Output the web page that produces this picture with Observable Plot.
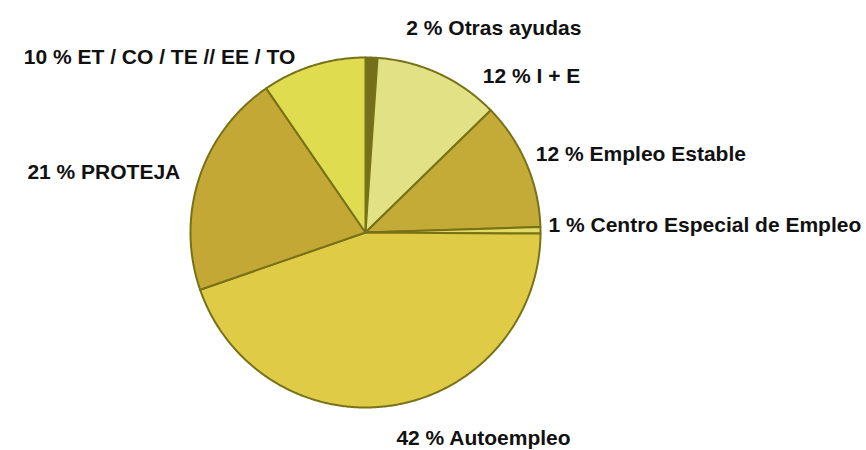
<!DOCTYPE html>
<html>
<head>
<meta charset="utf-8">
<script src="https://cdn.jsdelivr.net/npm/d3@7"></script>
<script src="https://cdn.jsdelivr.net/npm/@observablehq/plot@0.6"></script>
<style>
  html, body { margin: 0; padding: 0; background: #ffffff; }
  #chart svg { display: block; }
</style>
</head>
<body>
<div id="chart"></div>
<script>
// ---- Data ----
const categories = [
  "Otras ayudas",
  "I + E",
  "Empleo Estable",
  "Centro Especial de Empleo",
  "Autoempleo",
  "PROTEJA",
  "ET / CO / TE // EE / TO"
];
// percentages printed in the labels
const labelPercents = [2, 12, 12, 1, 42, 21, 10];
// slice shares as drawn in the picture (clockwise from 12 o'clock)
const sliceShares = [1.1, 11.6, 11.8, 0.6, 44.6, 20.7, 9.6];
const sliceColors = ["#736f1a", "#e3e186", "#c4aa36", "#e2dc62", "#e0cb46", "#c3a836", "#e0dc50"];
// small label nudges in pixels [dx, dy] relative to the radial anchor
const labelNudges = [[34, -8], [35, 22], [-10, -2], [-13, -5], [-1, 12], [1, 1], [-12, 12]];

// ---- Layout ----
const W = 866, H = 450;
const R = 175;            // pie radius in px
const labelRadius = 1.12; // radial anchor for labels (in radius units)

// ---- Build slice geometry with d3.pie ----
const arcs = d3.pie().sort(null).value(d => d)(sliceShares);
const polyPoints = [];
arcs.forEach((a, i) => {
  const name = categories[i];
  polyPoints.push({name, x: 0, y: 0});
  const span = a.endAngle - a.startAngle;
  const n = Math.max(2, Math.ceil(span / (Math.PI / 360)));
  for (let k = 0; k <= n; k++) {
    const t = a.startAngle + span * k / n;
    polyPoints.push({name, x: Math.sin(t), y: Math.cos(t)});
  }
});

const labels = arcs.map((a, i) => {
  const mid = (a.startAngle + a.endAngle) / 2;
  const [ndx, ndy] = labelNudges[i];
  return {
    text: `${labelPercents[i]} % ${categories[i]}`,
    x: labelRadius * Math.sin(mid) + ndx / R,
    y: labelRadius * Math.cos(mid) - ndy / R,
    anchor: mid < Math.PI ? "start" : "end"
  };
});

const cx = 365, cy = 232;
const font = {fontSize: 21, fontWeight: "bold", fontFamily: "Liberation Sans, Arial, sans-serif", fill: "#111111"};
const chart = Plot.plot({
  width: W,
  height: H,
  marginLeft: cx - R,
  marginRight: W - (cx + R),
  marginTop: cy - R,
  marginBottom: H - (cy + R),
  x: {domain: [-1, 1], axis: null},
  y: {domain: [-1, 1], axis: null},
  color: {domain: categories, range: sliceColors},
  style: {background: "#ffffff", overflow: "visible"},
  marks: [
    Plot.line(polyPoints, {
      x: "x", y: "y", z: "name", fill: "name",
      stroke: "#777218", strokeWidth: 2, strokeLinejoin: "round",
      curve: "linear-closed"
    }),
    Plot.text(labels.filter(d => d.anchor === "start"), {
      x: "x", y: "y", text: "text", textAnchor: "start", ...font
    }),
    Plot.text(labels.filter(d => d.anchor === "end"), {
      x: "x", y: "y", text: "text", textAnchor: "end", ...font
    })
  ]
});
document.getElementById("chart").appendChild(chart);
</script>
</body>
</html>
